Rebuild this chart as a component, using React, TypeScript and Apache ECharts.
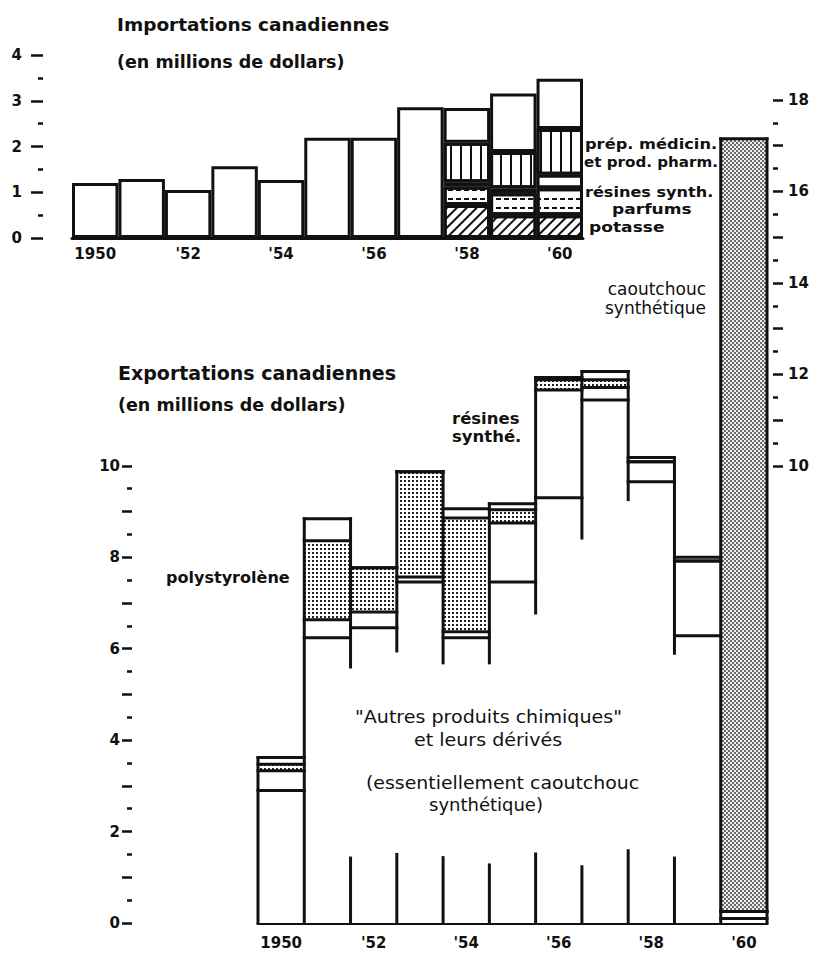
import React, { useEffect, useRef } from 'react';
import * as echarts from 'echarts';

// ---------- categories & tick labels ----------
const years = ['1950', '1951', '1952', '1953', '1954', '1955', '1956', '1957', '1958', '1959', '1960'];
const yearTickLabels = ['1950', '', "'52", '', "'54", '', "'56", '', "'58", '', "'60"];

// ---------- Importations (millions $) : cumulative levels ----------
const importTotal = [1.2, 1.29, 1.05, 1.57, 1.27, 2.19, 2.19, 2.86, 2.84, 3.16, 3.48];
const importPotasseTop = [null, null, null, null, null, null, null, null, 0.72, 0.5, 0.5];
const importParfumsTop = [null, null, null, null, null, null, null, null, 1.12, 0.98, 1.09];
const importResinesTop = [null, null, null, null, null, null, null, null, 1.22, 1.09, 1.38];
const importPrepTop = [null, null, null, null, null, null, null, null, 2.08, 1.88, 2.38];

// ---------- Exportations (millions $) : cumulative levels ----------
const exportAutresTop = [2.9, 6.24, 6.46, 7.46, 6.24, 7.46, 9.3, 11.44, 9.65, 6.28, 0.1];
const exportDiversTop = [3.33, 6.63, 6.8, 7.57, 6.37, 8.75, 11.66, 11.71, 10.09, 7.92, 0.25];
const exportPolyTop = [3.47, 8.36, 7.77, 9.87, 8.86, 9.04, 11.88, 11.88, 10.09, 7.92, 0.25];
const exportResinesTop = [3.62, 8.84, 7.77, 9.87, 9.06, 9.17, 11.93, 12.06, 10.18, 8.0, 0.25];
const exportCaoutchoucTop = [null, null, null, null, null, null, null, null, null, null, 17.15];
// lower end of each bar's left edge line, and height of the short stub from the base
const exportEdgeLower = [0, 0, 5.6, 5.95, 5.69, 5.69, 6.78, 8.42, 9.26, 5.9, 0];
const exportEdgeStub = [0, 0, 1.42, 1.5, 1.43, 1.27, 1.51, 1.23, 1.58, 1.42, 0];

const FONT = 'DejaVu Sans';
const INK = '#111';

function layer(top: (number | null)[], base: (number | null)[] | null): (number | null)[] {
  return top.map((t, i) => {
    if (t == null) return null;
    const b = base ? base[i] ?? 0 : 0;
    const d = +(t - b).toFixed(3);
    return d > 0 ? d : null;
  });
}

const hatchDecal = { symbol: 'rect', symbolSize: 1, color: INK, dashArrayX: [1, 0], dashArrayY: [1.4, 4.8], rotation: -Math.PI / 4 };
const stripeDecal = { symbol: 'rect', symbolSize: 1, color: INK, dashArrayX: [1.6, 7.7], dashArrayY: [1, 0] };
const dashDecal = { symbol: 'rect', symbolSize: 1, color: INK, dashArrayX: [5, 3], dashArrayY: [1.3, 7] };
const stippleDecal = { symbol: 'rect', symbolSize: 1, color: '#222', dashArrayX: [1.3, 1.7], dashArrayY: [1.3, 1.7] };
const rubberDecal = { symbol: 'rect', symbolSize: 1, color: '#6a6a6a', dashArrayX: [[1.5, 1.5], [0, 1.5, 1.5, 0]], dashArrayY: [1.5, 0] };

const impBorder = { borderColor: INK, borderWidth: 3 };

function buildOption() {
  const importAutres = importTotal.map((t, i) => +(t - (importPrepTop[i] ?? 0)).toFixed(3));

  const lineStyle = { stroke: INK, lineWidth: 3, lineCap: 'square' };

  const renderEdges = (params: any, api: any) => {
    const i = params.dataIndex;
    const lower = api.value(1);
    const stub = api.value(2);
    const w = api.size([1, 0])[0];
    const cx = api.coord([i, 0])[0];
    const xl = cx - w / 2;
    const xr = cx + w / 2;
    const y = (v: number) => api.coord([i, v])[1];
    const levels = [exportAutresTop[i], exportDiversTop[i], exportPolyTop[i], exportResinesTop[i], exportCaoutchoucTop[i]]
      .filter((v) => v != null && v > 0) as number[];
    const top = Math.max(...levels);
    const children: any[] = [];
    levels.forEach((v) => {
      children.push({ type: 'line', shape: { x1: xl, y1: y(v), x2: xr, y2: y(v) }, style: lineStyle });
    });
    let prevTop = 0;
    if (i > 0) {
      prevTop = Math.max(
        ...([exportResinesTop[i - 1], exportCaoutchoucTop[i - 1]].filter((v) => v != null) as number[])
      );
    }
    const edgeTop = Math.max(top, prevTop);
    children.push({ type: 'line', shape: { x1: xl, y1: y(edgeTop), x2: xl, y2: y(lower) }, style: lineStyle });
    if (lower > 0) {
      children.push({ type: 'line', shape: { x1: xl, y1: y(0), x2: xl, y2: y(stub) }, style: lineStyle });
    }
    if (i === years.length - 1) {
      children.push({ type: 'line', shape: { x1: xr, y1: y(top), x2: xr, y2: y(0) }, style: lineStyle });
    }
    return { type: 'group', children };
  };

  const axisLabelBase = { color: INK, fontFamily: FONT, fontSize: 15, fontWeight: 'bold' };
  const tickStyle = { color: INK, width: 2.5 };

  const txt = (
    text: string, x: number, y: number, size: number,
    weight: string = 'normal', align: string = 'left', sx: number = 1
  ) => ({
    type: 'text',
    x,
    y,
    z: 100,
    scaleX: sx,
    style: { text, fill: INK, fontFamily: FONT, fontSize: size, fontWeight: weight, align, verticalAlign: 'middle' },
  });

  return {
    animation: false,
    backgroundColor: '#fff',
    grid: [
      { left: 72, top: 55, width: 511, height: 183 },
      { left: 258, top: 100, width: 509, height: 823 },
      { left: 258, top: 465.8, width: 509, height: 457.2 },
      { left: 258, top: 100, width: 509, height: 365.8 },
    ],
    xAxis: [
      {
        type: 'category', gridIndex: 0, data: years,
        axisLine: { lineStyle: { color: INK, width: 3 } }, axisTick: { show: false },
        axisLabel: { ...axisLabelBase, interval: 0, margin: 8, formatter: (_v: string, idx: number) => yearTickLabels[idx] },
      },
      {
        type: 'category', gridIndex: 1, data: years,
        axisLine: { lineStyle: { color: INK, width: 3 } }, axisTick: { show: false },
        axisLabel: { ...axisLabelBase, interval: 0, margin: 12, formatter: (_v: string, idx: number) => yearTickLabels[idx] },
      },
      { type: 'category', gridIndex: 2, data: years, show: false },
      { type: 'category', gridIndex: 3, data: years, show: false },
    ],
    yAxis: [
      {
        type: 'value', gridIndex: 0, min: 0, max: 4, interval: 1, offset: 29,
        splitLine: { show: false }, axisLine: { show: false },
        axisTick: { show: true, length: 12, lineStyle: tickStyle },
        minorTick: { show: true, splitNumber: 2, length: 5, lineStyle: tickStyle },
        axisLabel: { ...axisLabelBase, margin: 21 },
      },
      { type: 'value', gridIndex: 1, min: 0, max: 18, show: false, splitLine: { show: false } },
      {
        type: 'value', gridIndex: 2, min: 0, max: 10, interval: 1, offset: 126,
        splitLine: { show: false }, axisLine: { show: false },
        axisTick: { show: true, length: 10, lineStyle: tickStyle },
        minorTick: { show: true, splitNumber: 2, length: 5, lineStyle: tickStyle },
        axisLabel: { ...axisLabelBase, margin: 12, formatter: (v: number) => (v % 2 === 0 ? String(v) : '') },
      },
      {
        type: 'value', gridIndex: 3, position: 'right', min: 10, max: 18, interval: 1, offset: 6,
        splitLine: { show: false }, axisLine: { show: false },
        axisTick: { show: true, length: 10, lineStyle: tickStyle },
        minorTick: { show: true, splitNumber: 2, length: 5, lineStyle: tickStyle },
        axisLabel: { ...axisLabelBase, margin: 15, formatter: (v: number) => (v % 2 === 0 ? String(v) : '') },
      },
    ],
    series: [
      // ---- imports ----
      { type: 'bar', name: 'potasse', xAxisIndex: 0, yAxisIndex: 0, stack: 'imp', barCategoryGap: '0%',
        data: layer(importPotasseTop, null), itemStyle: { color: '#fff', ...impBorder, decal: hatchDecal } },
      { type: 'bar', name: 'parfums', xAxisIndex: 0, yAxisIndex: 0, stack: 'imp', barCategoryGap: '0%',
        data: layer(importParfumsTop, importPotasseTop), itemStyle: { color: '#fff', ...impBorder, decal: dashDecal } },
      { type: 'bar', name: 'résines synth.', xAxisIndex: 0, yAxisIndex: 0, stack: 'imp', barCategoryGap: '0%',
        data: layer(importResinesTop, importParfumsTop), itemStyle: { color: '#fff', ...impBorder } },
      { type: 'bar', name: 'prép. médicin. et prod. pharm.', xAxisIndex: 0, yAxisIndex: 0, stack: 'imp', barCategoryGap: '0%',
        data: layer(importPrepTop, importResinesTop), itemStyle: { color: '#fff', ...impBorder, decal: stripeDecal } },
      { type: 'bar', name: 'autres importations', xAxisIndex: 0, yAxisIndex: 0, stack: 'imp', barCategoryGap: '0%',
        data: importAutres, itemStyle: { color: '#fff', ...impBorder } },
      // ---- exports ----
      { type: 'bar', name: 'autres produits chimiques', xAxisIndex: 1, yAxisIndex: 1, stack: 'exp', barCategoryGap: '0%',
        data: layer(exportAutresTop, null), itemStyle: { color: '#fff' } },
      { type: 'bar', name: 'divers', xAxisIndex: 1, yAxisIndex: 1, stack: 'exp', barCategoryGap: '0%',
        data: layer(exportDiversTop, exportAutresTop), itemStyle: { color: '#fff' } },
      { type: 'bar', name: 'polystyrolène', xAxisIndex: 1, yAxisIndex: 1, stack: 'exp', barCategoryGap: '0%',
        data: layer(exportPolyTop, exportDiversTop), itemStyle: { color: '#fff', decal: stippleDecal } },
      { type: 'bar', name: 'résines synthé.', xAxisIndex: 1, yAxisIndex: 1, stack: 'exp', barCategoryGap: '0%',
        data: layer(exportResinesTop, exportPolyTop), itemStyle: { color: '#fff' } },
      { type: 'bar', name: 'caoutchouc synthétique', xAxisIndex: 1, yAxisIndex: 1, stack: 'exp', barCategoryGap: '0%',
        data: layer(exportCaoutchoucTop, exportResinesTop), itemStyle: { color: '#eeeeee', decal: rubberDecal } },
      { type: 'custom', name: 'contours', xAxisIndex: 1, yAxisIndex: 1, z: 10, clip: false,
        data: years.map((_, i) => [i, exportEdgeLower[i], exportEdgeStub[i]]),
        renderItem: renderEdges },
    ],
    graphic: [
      txt('Importations canadiennes', 117, 24, 18.5, 'bold'),
      txt('(en millions de dollars)', 117, 62, 17.5, 'bold'),
      txt('prép. médicin.', 585, 144, 14, 'bold', 'left', 1.16),
      txt('et prod. pharm.', 584, 162, 14, 'bold', 'left', 1.08),
      txt('résines synth.', 585, 192, 14, 'bold', 'left', 1.15),
      txt('parfums', 612, 210, 14, 'bold', 'left', 1.22),
      txt('potasse', 589, 228, 14, 'bold', 'left', 1.22),
      txt('caoutchouc', 706, 289, 17, 'normal', 'right'),
      txt('synthétique', 706, 308, 17, 'normal', 'right'),
      txt('Exportations canadiennes', 118, 373, 19, 'bold'),
      txt('(en millions de dollars)', 118, 405, 17.5, 'bold'),
      txt('résines', 452, 419, 15, 'bold', 'left', 1.1),
      txt('synthé.', 452, 437, 15, 'bold', 'left', 1.1),
      txt('polystyrolène', 166, 578, 15, 'bold', 'left', 1.07),
      txt('"Autres produits chimiques"', 355, 717, 18, 'normal', 'left', 1.06),
      txt('et leurs dérivés', 414, 740, 18, 'normal', 'left', 1.06),
      txt('(essentiellement caoutchouc', 366, 783, 18, 'normal', 'left', 1.05),
      txt('synthétique)', 429, 804, 18, 'normal', 'left', 1.0),
    ],
  };
}

export default function App() {
  const ref = useRef<HTMLDivElement>(null);
  useEffect(() => {
    const chart = echarts.init(ref.current as HTMLDivElement, undefined, { renderer: 'svg', width: 815, height: 953 });
    chart.setOption(buildOption() as any);
    return () => chart.dispose();
  }, []);
  return <div ref={ref} style={{ position: 'absolute', left: 0, top: 0, width: 815, height: 953, background: '#fff' }} />;
}
